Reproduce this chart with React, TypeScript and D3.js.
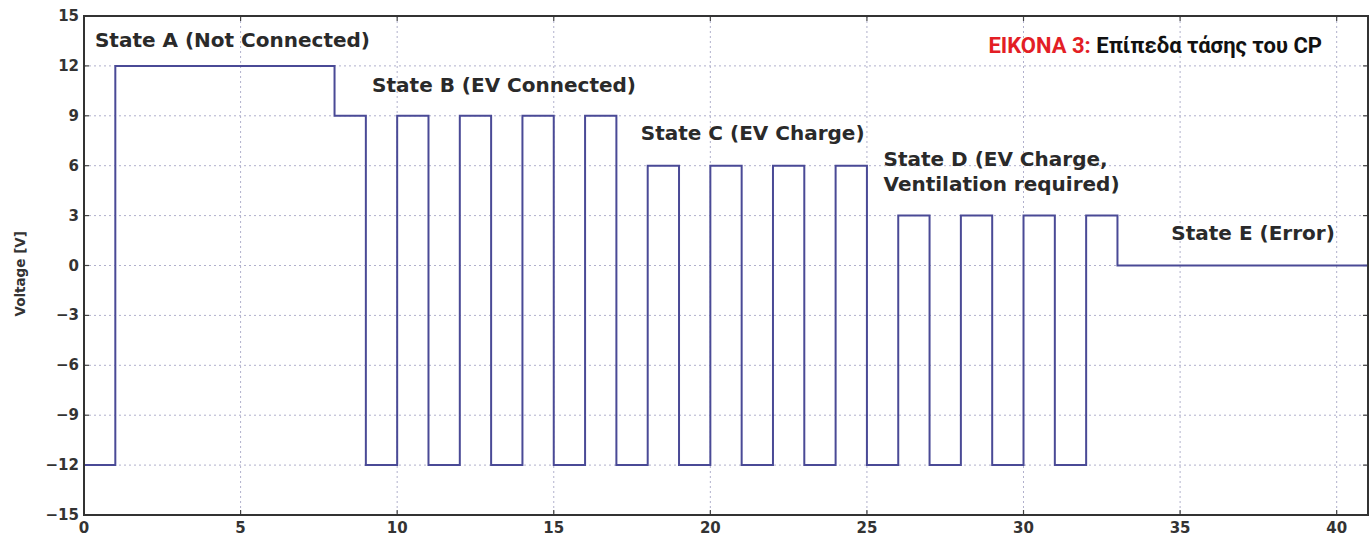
import React from "react";
import * as d3 from "d3";

const times = [0, 1, 8, 9, 10, 11, 12, 13, 14, 15, 16, 17, 18, 19, 20, 21, 22, 23, 24, 25, 26, 27, 28, 29, 30, 31, 32, 33, 41];
const volts = [-12, 12, 9, -12, 9, -12, 9, -12, 9, -12, 9, -12, 6, -12, 6, -12, 6, -12, 6, -12, 3, -12, 3, -12, 3, -12, 3, 0, 0];
const xTicks = [0, 5, 10, 15, 20, 25, 30, 35, 40];
const yTicks = [-15, -12, -9, -6, -3, 0, 3, 6, 9, 12, 15];
const annotations = [
  { x: 0.35, y: 13.14, lines: ["State A (Not Connected)"] },
  { x: 9.2, y: 10.43, lines: ["State B (EV Connected)"] },
  { x: 17.78, y: 7.54, lines: ["State C (EV Charge)"] },
  { x: 25.53, y: 5.98, lines: ["State D (EV Charge,", "Ventilation required)"] },
  { x: 34.72, y: 1.53, lines: ["State E (Error)"] },
];

const W = 1372, H = 536;
const m = { left: 84, right: 1368, top: 16, bottom: 515 };

export default function App() {
  const x = d3.scaleLinear().domain([0, 41]).range([m.left, m.right]);
  const y = d3.scaleLinear().domain([-15, 15]).range([m.bottom, m.top]);
  const pts: [number, number][] = times.map((t, i) => [t, volts[i]]);
  const line = d3.line<[number, number]>().x(d => x(d[0])).y(d => y(d[1])).curve(d3.curveStepAfter);
  const font = "'DejaVu Sans', sans-serif";
  return (
    <svg width={W} height={H} style={{ position: "absolute", left: 0, top: 0, background: "#fff" }}>
      <rect x={0} y={0} width={W} height={H} fill="#fff" />
      {xTicks.filter(t => t > 0).map(t => (
        <line key={"gx" + t} x1={x(t)} x2={x(t)} y1={m.top} y2={m.bottom} stroke="#b0b0cc" strokeWidth={1} strokeDasharray="2,3" />
      ))}
      {yTicks.filter(t => t > -15 && t < 15).map(t => (
        <line key={"gy" + t} x1={m.left} x2={m.right} y1={y(t)} y2={y(t)} stroke="#b0b0cc" strokeWidth={1} strokeDasharray="2,3" />
      ))}
      {xTicks.map(t => (
        <g key={"tx" + t}>
          <line x1={x(t)} x2={x(t)} y1={m.bottom} y2={m.bottom - 5} stroke="#444" strokeWidth={1.2} />
          <line x1={x(t)} x2={x(t)} y1={m.top} y2={m.top + 5} stroke="#444" strokeWidth={1.2} />
          <text x={x(t)} y={m.bottom + 18} textAnchor="middle" fontFamily={font} fontWeight="bold" fontSize={15} fill="#333">{t}</text>
        </g>
      ))}
      {yTicks.map(t => (
        <g key={"ty" + t}>
          <line x1={m.left} x2={m.left + 5} y1={y(t)} y2={y(t)} stroke="#444" strokeWidth={1.2} />
          <line x1={m.right} x2={m.right - 5} y1={y(t)} y2={y(t)} stroke="#444" strokeWidth={1.2} />
          <text x={m.left - 5} y={y(t) + 5} textAnchor="end" fontFamily={font} fontWeight="bold" fontSize={15} fill="#333">{t < 0 ? "\u2212" + Math.abs(t) : t}</text>
        </g>
      ))}
      <path d={line(pts) || ""} fill="none" stroke="#4a4a96" strokeWidth={2} />
      <rect x={m.left} y={m.top} width={m.right - m.left} height={m.bottom - m.top} fill="none" stroke="#333" strokeWidth={2} />
      {annotations.map((a, i) => (
        <text key={"a" + i} x={x(a.x)} y={y(a.y)} fontFamily={font} fontWeight="bold" fontSize={20} fill="#2a2a2a">
          {a.lines.map((l, j) => (
            <tspan key={j} x={x(a.x)} dy={j === 0 ? 0 : 25}>{l}</tspan>
          ))}
        </text>
      ))}
      <text transform={`translate(25, ${y(-0.5)}) rotate(-90)`} textAnchor="middle" fontFamily={font} fontWeight="bold" fontSize={13.5} fill="#333">Voltage [V]</text>
      <text x={1322} y={53} textAnchor="end" fontFamily="Roboto, sans-serif" fontWeight="bold" fontSize={22}>
        <tspan fill="#e31e25">ΕΙΚΟΝΑ 3: </tspan>
        <tspan fill="#111">Επίπεδα τάσης του CP</tspan>
      </text>
    </svg>
  );
}
